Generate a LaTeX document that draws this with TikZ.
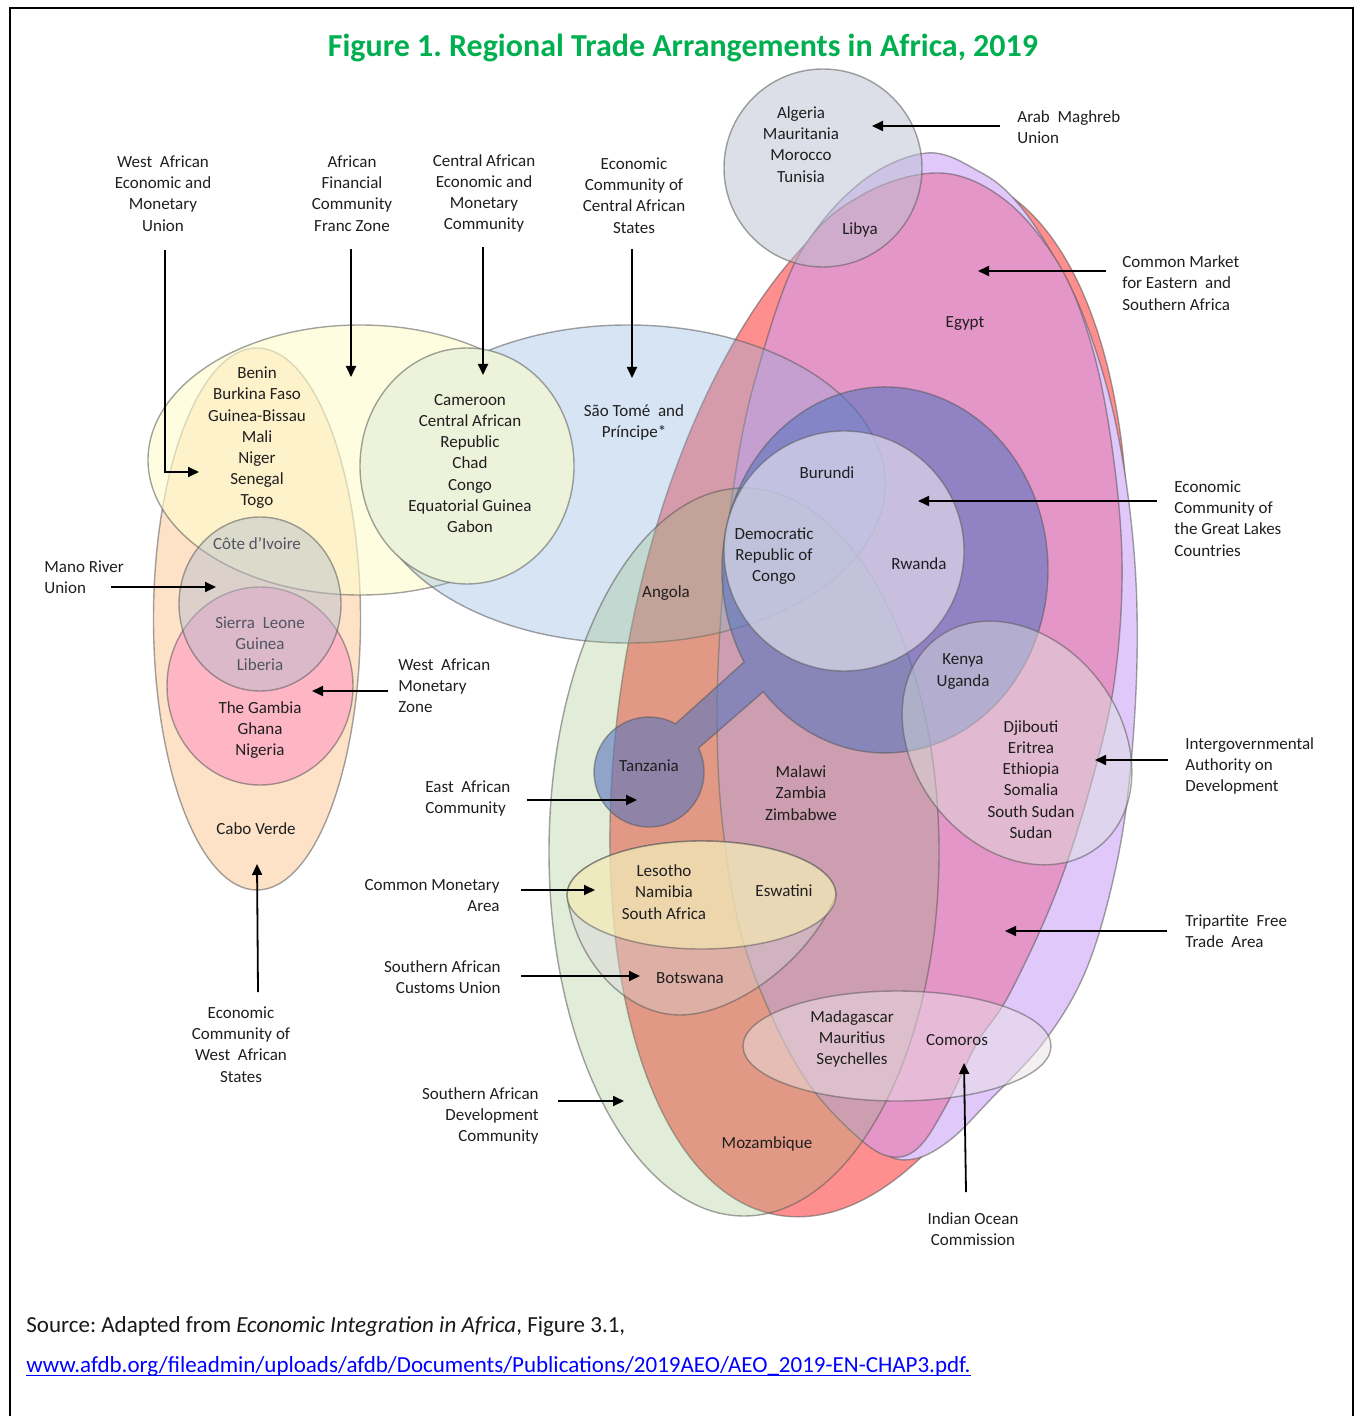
\documentclass[tikz,border=0pt]{standalone}
\usepackage{fontspec}
\setmainfont{Carlito}
\usetikzlibrary{arrows.meta}
\frenchspacing
\definecolor{cEcowas}{RGB}{253,226,200}
\definecolor{cFranc}{RGB}{255,252,205}
\definecolor{cLav}{RGB}{224,200,250}
\definecolor{cRed}{RGB}{255,143,143}
\definecolor{cPink}{RGB}{228,150,200}
\definecolor{cBlue}{RGB}{138,178,221}
\definecolor{cCemac}{RGB}{237,242,218}
\definecolor{cGreen}{RGB}{139,183,107}
\definecolor{cMano}{RGB}{180,190,205}
\definecolor{cWamz}{RGB}{255,140,195}
\definecolor{cEac}{RGB}{90,117,192}
\definecolor{cEcglc}{RGB}{237,233,243}
\definecolor{cIgad}{RGB}{222,228,222}
\definecolor{cSacu}{RGB}{215,210,215}
\definecolor{cCma}{RGB}{249,240,177}
\definecolor{cIoc}{RGB}{235,225,230}
\definecolor{cAmu}{RGB}{187,193,209}
\definecolor{cTitle}{RGB}{0,176,80}
\definecolor{cUrl}{RGB}{0,0,255}
\definecolor{cGreyTxt}{RGB}{80,85,100}
\newcommand\lblsize{\fontsize{8.5}{10.6}\selectfont}
\newcommand\srcsize{\fontsize{11.5}{13.5}\selectfont}
\tikzset{
  region/.style={draw=black!65, draw opacity=0.55, line width=0.7pt},
  lbl/.style={font=\lblsize, align=center, inner sep=0pt, text=black!88},
  lbll/.style={lbl, align=left, anchor=west},
  lblr/.style={lbl, align=right, anchor=east},
  arr/.style={draw=black, line width=0.9pt, -{Triangle[length=5.5pt,width=5pt]}},
}
\begin{document}
\begin{tikzpicture}[x=0.5pt,y=-0.5pt]
\useasboundingbox (0,0) rectangle (1356,1416);
\fill[white] (0,0) rectangle (1356,1416);
\draw[line width=1pt] (10,1416) -- (10,8) -- (1353,8) -- (1353,1416);

% ---------- left cluster ----------
\path[region, fill=cEcowas] (257,619) ellipse [x radius=103.5, y radius=271];
\path[region, fill=cFranc, fill opacity=0.62] (360,460) ellipse [x radius=212, y radius=135];

% ---------- right cluster ----------
% Tripartite Free Trade Area
\path[region, fill=cRed, rotate around={-10:(869,695)}] (869,695) ellipse [x radius=246, y radius=528];
% lavender outer shape
\path[region, fill=cLav] plot[smooth cycle, tension=0.6] coordinates {
  (927,153) (980,172) (1015,200) (1050,250) (1085,320) (1115,420) (1133,540)
  (1137,660) (1128,793) (1110,893) (1083,977) (1043,1043) (990,1100) (950,1140)
  (914,1159) (882,1152) (845,1110) (790,1020) (750,900) (730,760) (728,620)
  (742,480) (765,360) (800,255) (860,183)};
% COMESA
\path[region, fill=cPink] plot[smooth cycle, tension=0.6] coordinates {
  (940,173) (1005,200) (1058,263) (1090,340) (1111,440) (1122,560) (1115,677)
  (1093,777) (1057,890) (1010,993) (977,1043) (948,1102) (920,1146) (893,1157)
  (861,1140) (811,1087) (772,1017) (740,930) (722,820) (717,713) (722,600)
  (733,490) (755,380) (800,253) (862,195)};
\path[region, fill=cBlue, fill opacity=0.35] (628,484) ellipse [x radius=257, y radius=159];
\path[region, fill=cCemac] (467,466) ellipse [x radius=107, y radius=118];
\path[region, fill=cGreen, fill opacity=0.25] (744,852) ellipse [x radius=195, y radius=364];

\path[region, fill=cWamz, fill opacity=0.5] (260,686) ellipse [x radius=93, y radius=99];
\path[region, fill=cMano, fill opacity=0.45] (260,604) ellipse [x radius=81, y radius=87];

% East African Community (ring + stem + Tanzania)
\path[region, fill=cEac, fill opacity=0.6]
  (744.1,662) arc[start angle=149.8, end angle=498.3, x radius=163, y radius=183]
  -- (698.5,748) arc[start angle=-25.9, end angle=298.9, radius=55] -- cycle;
\path[region, fill=cEcglc, fill opacity=0.6] (844,551) circle [radius=120];
\path[region, fill=cIgad, fill opacity=0.45, rotate around={-52:(1017,743)}] (1017,743) ellipse [x radius=132, y radius=103];
\path[region, fill=cSacu, fill opacity=0.4]
  (567,895) .. controls (575,960) and (625,1015) .. (680,1015)
  .. controls (735,1015) and (810,960) .. (836,895)
  arc[start angle=0, end angle=-180, x radius=134.5, y radius=54] -- cycle;
\path[region, fill=cCma, fill opacity=0.6] (701.5,895) ellipse [x radius=134.5, y radius=54];
\path[region, fill=cIoc, fill opacity=0.5] (897,1046) ellipse [x radius=154, y radius=55];
\path[region, fill=cAmu, fill opacity=0.5] (823,168) circle [radius=99];

% ---------- title ----------
\node[font=\fontsize{16}{19}\selectfont\bfseries, text=cTitle, inner sep=0pt] (title) at (683,48)
  {Figure 1. Regional Trade Arrangements in Africa, 2019};

% ---------- organisation labels ----------
\node[lbl] (lWaemu) at (163,193.5) {West\ \ African\\Economic and\\Monetary\\Union};
\node[lbl] (lFranc) at (352,193.5) {African\\Financial\\Community\\Franc Zone};
\node[lbl] (lCaemc) at (484,193.5) {Central African\\Economic and\\Monetary\\Community};
\node[lbl] (lEccas) at (634,195.5) {Economic\\Community of\\Central African\\States};
\node[lbll] (lAmu) at (1017,127.5) {Arab\ \ Maghreb\\Union};
\node[lbll] (lComesa) at (1122,283) {Common Market\\for Eastern\ \ and\\Southern Africa};
\node[lbll] (lEcglc) at (1174,518.5) {Economic\\Community of\\the Great Lakes\\Countries};
\node[lbll] (lMano) at (44,577.5) {Mano River\\Union};
\node[lbll] (lWamz) at (398,686) {West\ \ African\\Monetary\\Zone};
\node[lbll] (lIgad) at (1185,766) {Intergovernmental\\Authority on\\Development};
\node[lbll] (lEac) at (425,798.5) {East\ \ African\\Community};
\node[lblr] (lCma) at (500,895.5) {Common Monetary\\Area};
\node[lblr] (lSacu) at (501,977.5) {Southern African\\Customs Union};
\node[lbll] (lTrip) at (1185,931.5) {Tripartite\ \ Free\\Trade\ \ Area};
\node[lbl] (lEcowas) at (241,1044.5) {Economic\\Community of\\West\ \ African\\States};
\node[lblr] (lSadc) at (539,1116) {Southern African\\Development\\Community};
\node[lbl] (lIoc) at (973,1229) {Indian Ocean\\Commission};

% ---------- country labels ----------
\node[lbl] (cAmuC) at (801,144.5) {Algeria\\Mauritania\\Morocco\\Tunisia};
\node[lbl] (cLibya) at (860,230) {Libya};
\node[lbl] (cEgypt) at (965,324) {Egypt};
\node[lbl] (cWaemuC) at (257,438) {Benin\\Burkina Faso\\Guinea-Bissau\\Mali\\Niger\\Senegal\\Togo};
\node[lbl] (cCemacC) at (470,463.5) {Cameroon\\Central African\\Republic\\Chad\\Congo\\Equatorial Guinea\\Gabon};
\node[lbl] (cSao) at (634,422.5) {São Tomé\ \ and\\Príncipe*};
\node[lbl] (cBurundi) at (827,473) {Burundi};
\node[lbl] (cDrc) at (774,556) {Democratic\\Republic of\\Congo};
\node[lbl] (cRwanda) at (919,564) {Rwanda};
\node[lbl] (cAngola) at (666,593) {Angola};
\node[lbl, text=cGreyTxt] (cCote) at (257,544) {Côte d’Ivoire};
\node[lbl, text=cGreyTxt] (cSierra) at (260,643.5) {Sierra\ \ Leone\\Guinea\\Liberia};
\node[lbl] (cGambia) at (260,730) {The Gambia\\Ghana\\Nigeria};
\node[lbl] (cKenya) at (963,671.5) {Kenya\\Uganda};
\node[lbl] (cDjib) at (1031,779.5) {Djibouti\\Eritrea\\Ethiopia\\Somalia\\South Sudan\\Sudan};
\node[lbl] (cTanz) at (649,766) {Tanzania};
\node[lbl] (cMalawi) at (801,793) {Malawi\\Zambia\\Zimbabwe};
\node[lbl] (cCabo) at (256,829) {Cabo Verde};
\node[lbl] (cLesotho) at (664,892) {Lesotho\\Namibia\\South Africa};
\node[lbl] (cEswat) at (784,891) {Eswatini};
\node[lbl] (cBots) at (690,978) {Botswana};
\node[lbl] (cMadag) at (852,1039) {Madagascar\\Mauritius\\Seychelles};
\node[lbl] (cComoros) at (957,1040) {Comoros};
\node[lbl] (cMoz) at (767,1144) {Mozambique};

% ---------- arrows ----------
\coordinate (aWaemuS) at (165,250);  \coordinate (aWaemuE) at (199,472);
\coordinate (aFrancS) at (351,249);  \coordinate (aFrancE) at (351,377);
\coordinate (aCaemcS) at (483,247);  \coordinate (aCaemcE) at (483,375);
\coordinate (aEccasS) at (632,249);  \coordinate (aEccasE) at (632,378);
\coordinate (aAmuS) at (1000,126);   \coordinate (aAmuE) at (872,126);
\coordinate (aComesaS) at (1106,271); \coordinate (aComesaE) at (978,271);
\coordinate (aEcglcS) at (1157,501); \coordinate (aEcglcE) at (918,501);
\coordinate (aManoS) at (111,587);   \coordinate (aManoE) at (216,587);
\coordinate (aWamzS) at (388,691);   \coordinate (aWamzE) at (312,691);
\coordinate (aIgadS) at (1168,760);  \coordinate (aIgadE) at (1095,760);
\coordinate (aEacS) at (527,800);    \coordinate (aEacE) at (637,800);
\coordinate (aCmaS) at (521,890);    \coordinate (aCmaE) at (595,890);
\coordinate (aSacuS) at (521,976);   \coordinate (aSacuE) at (640,976);
\coordinate (aTripS) at (1167,931);  \coordinate (aTripE) at (1005,931);
\coordinate (aEcowasS) at (258,992); \coordinate (aEcowasE) at (257,864);
\coordinate (aSadcS) at (558,1101);  \coordinate (aSadcE) at (624,1101);
\coordinate (aIocS) at (966,1192);   \coordinate (aIocE) at (964,1063);

\draw[arr] (aWaemuS) |- (aWaemuE);
\draw[arr] (aFrancS) -- (aFrancE);
\draw[arr] (aCaemcS) -- (aCaemcE);
\draw[arr] (aEccasS) -- (aEccasE);
\draw[arr] (aAmuS) -- (aAmuE);
\draw[arr] (aComesaS) -- (aComesaE);
\draw[arr] (aEcglcS) -- (aEcglcE);
\draw[arr] (aManoS) -- (aManoE);
\draw[arr] (aWamzS) -- (aWamzE);
\draw[arr] (aIgadS) -- (aIgadE);
\draw[arr] (aEacS) -- (aEacE);
\draw[arr] (aCmaS) -- (aCmaE);
\draw[arr] (aSacuS) -- (aSacuE);
\draw[arr] (aTripS) -- (aTripE);
\draw[arr] (aEcowasS) -- (aEcowasE);
\draw[arr] (aSadcS) -- (aSadcE);
\draw[arr] (aIocS) -- (aIocE);

% ---------- source ----------
\node[anchor=base west, font=\srcsize, inner sep=0pt, text=black!90] (src) at (26,1332)
  {Source: Adapted from \textit{Economic Integration in Africa}, Figure 3.1,};
\node[anchor=base west, font=\srcsize, inner sep=0pt, text=cUrl] (url) at (26,1372)
  {www.afdb.org/fileadmin/uploads/afdb/Documents/Publications/2019AEO/AEO\_2019-EN-CHAP3.pdf.};
\draw[cUrl, line width=0.6pt] ([yshift=-1.6pt]url.base west) -- ([yshift=-1.6pt]url.base east);
\end{tikzpicture}
\end{document}
